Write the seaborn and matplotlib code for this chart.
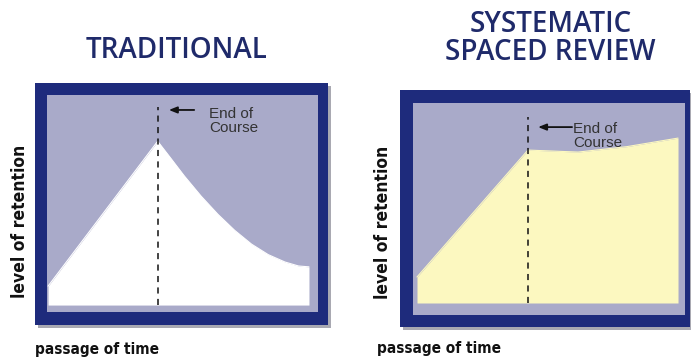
import matplotlib
matplotlib.use("Agg")
import matplotlib.pyplot as plt
from matplotlib.patches import Rectangle
import seaborn as sns

# curve data: passage of time (0-100) vs level of retention (0-100)
trad_time = [0, 42.0, 47.1, 52.2, 58.7, 65.1, 71.5, 78.0, 84.4, 90.8, 96.0, 100]
trad_retention = [9.0, 78.0, 69.8, 61.5, 51.8, 43.2, 35.6, 29.0, 24.0, 20.5, 18.6, 18.2]

ssr_time = [0, 42.5, 61.7, 80.3, 100]
ssr_retention = [13.0, 76.5, 75.5, 78.2, 82.5]

end_of_course = [42.0, 42.5]
titles = ["TRADITIONAL", "SYSTEMATIC\nSPACED REVIEW"]
fills = ["#ffffff", "#fcf8c0"]

NAVY = "#1e2b7c"
LAVENDER = "#a9aac9"
TITLE_COL = "#1f2a6a"

sns.set_theme(style="white")
plt.rcParams["font.family"] = ["Liberation Sans", "DejaVu Sans"]

fig = plt.figure(figsize=(6.91, 3.6), dpi=100)

panels = [
    dict(pos=[0.0507, 0.0972, 0.424, 0.672], xlim=(-5.0, 107.3), ylim=(-9.5, 105.7),
         inner=(0.041, 0.054, 0.925, 0.896), dash_top=94.3,
         arrow=((56, 92.9), (46.3, 92.9)), label=(61.8, 87.6),
         x=trad_time, y=trad_retention),
    dict(pos=[0.5789, 0.0917, 0.4197, 0.658], xlim=(-6.5, 104.6), ylim=(-12.0, 106.5),
         inner=(0.045, 0.051, 0.938, 0.894), dash_top=93.0,
         arrow=((59.4, 88.0), (46.4, 88.0)), label=(59.8, 83.5),
         x=ssr_time, y=ssr_retention),
]

for i, p in enumerate(panels):
    # drop shadow behind frame
    x0, y0, w, h = p["pos"]
    fig.add_artist(Rectangle((x0 + 0.004, y0 - 0.008), w, h, transform=fig.transFigure,
                             facecolor="#555566", edgecolor="none", alpha=0.5, zorder=0))
    ax = fig.add_axes(p["pos"])
    ax.set_facecolor(NAVY)
    ax.add_patch(Rectangle(p["inner"][:2], p["inner"][2], p["inner"][3], transform=ax.transAxes,
                           facecolor=LAVENDER, edgecolor="none", zorder=0))
    ax.fill_between(p["x"], 0, p["y"], color=fills[i], zorder=1, linewidth=0)
    sns.lineplot(x=p["x"], y=p["y"], ax=ax, color=fills[i], linewidth=0.8, zorder=2)
    ax.plot([end_of_course[i]] * 2, [0, p["dash_top"]], color="#111111",
            linestyle=(0, (4, 3.5)), linewidth=1.1, zorder=3)
    (ax_, ay_), (bx_, by_) = p["arrow"]
    ax.annotate("", xy=(bx_, by_), xytext=(ax_, ay_),
                arrowprops=dict(arrowstyle="-|>,head_length=0.4,head_width=0.16",
                                color="#111111", lw=1.3, shrinkA=0, shrinkB=0), zorder=4)
    ax.text(p["label"][0], p["label"][1], "End of\nCourse", fontsize=11, color="#333333",
            ha="left", va="center", linespacing=1.0, zorder=4)
    ax.set_xlim(*p["xlim"])
    ax.set_ylim(*p["ylim"])
    ax.set_xticks([])
    ax.set_yticks([])
    for s in ax.spines.values():
        s.set_visible(False)

title_font = ["Open Sans", "DejaVu Sans"]

fig.text(0.256, 0.861, titles[0], ha="center", va="center", fontsize=20,
         fontweight="semibold", color=TITLE_COL, family=title_font)
fig.text(0.797, 0.894, titles[1], ha="center", va="center", fontsize=20,
         fontweight="semibold", color=TITLE_COL, family=title_font, linespacing=0.95)

for xl, yl in [(0.029, 0.386), (0.554, 0.383)]:
    fig.text(xl, yl, "level of retention", rotation=90, ha="center", va="center",
             fontsize=12.5, fontweight="bold", fontstretch="condensed",
             color="#111111", family="DejaVu Sans")
for xl, yl in [(0.0507, 0.028), (0.5456, 0.033)]:
    fig.text(xl, yl, "passage of time", ha="left", va="center",
             fontsize=11, fontweight="bold", fontstretch="condensed",
             color="#111111", family="DejaVu Sans")

fig.savefig("out.png", dpi=100, facecolor="white")
